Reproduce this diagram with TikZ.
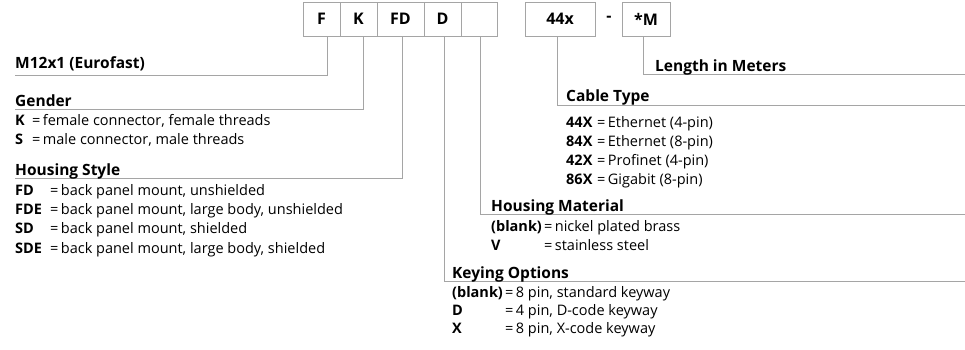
\documentclass[tikz,border=0pt]{standalone}
\usepackage{fontspec}
\setmainfont{Open Sans}
\usetikzlibrary{positioning}

\definecolor{linegray}{RGB}{165,165,165}
\tikzset{
  codebox/.style={draw=linegray, line width=1pt, outer sep=0pt, inner sep=0pt,
    minimum height=34pt, font=\fontsize{16}{19}\selectfont\bfseries},
  conn/.style={draw=linegray, line width=1pt},
  heading/.style={anchor=base west, inner sep=0pt, font=\fontsize{15.5}{18}\selectfont\bfseries},
  entry/.style={anchor=base west, inner sep=0pt, font=\fontsize{14.5}{16}\selectfont},
}
\newcommand{\optrow}[3]{\makebox[#1][l]{\textbf{#2}}=\,#3}

\begin{document}
\begin{tikzpicture}[x=1pt,y=-1pt]
	\useasboundingbox (0,0) rectangle (965,349);
	% part number boxes
	\node[codebox, minimum width=37pt] (bF) at (321.5,19) {F};
	\node[codebox, minimum width=37pt, right=0pt of bF] (bK) {K};
	\node[codebox, minimum width=47pt, right=0pt of bK] (bFD) {FD};
	\node[codebox, minimum width=37pt, right=0pt of bFD] (bD) {D};
	\node[codebox, minimum width=36pt, right=0pt of bD] (bMat) {};
	\node[codebox, minimum width=70pt] (bCab) at (560,19) {44x};
	\node[font=\fontsize{16}{19}\selectfont\bfseries] (dash) at (609,19) {-};
	\node[codebox, minimum width=48pt] (bLen) at (646,19) {*M};
	
	% ends of the underlines
	\coordinate (m12end) at (15,75.5);
	\coordinate (genend) at (15,109.5);
	\coordinate (hsend) at (15,178);
	\coordinate (lenend) at (965,74);
	\coordinate (cabend) at (965,105);
	\coordinate (matend) at (965,214);
	\coordinate (keyend) at (965,281.5);
	
	\draw[conn] ([xshift=5.5pt]bF.south) |- (m12end);
	\draw[conn] ([xshift=4.5pt]bK.south) |- (genend);
	\draw[conn] ([xshift=1.5pt]bFD.south) |- (hsend);
	\draw[conn] ([xshift=1.5pt]bD.south) |- (keyend);
	\draw[conn] ([xshift=1pt]bMat.south) |- (matend);
	\draw[conn] ([xshift=-3pt]bCab.south) |- (cabend);
	\draw[conn] ([xshift=-3pt]bLen.south) |- (lenend);
	
	% left column
	\node[heading] (m12) at (15,68) {M12x1 (Eurofast)};
	
	\node[heading] (gen) at (15,106) {Gender};
	\node[entry] (genK) at (15,125) {\optrow{17pt}{K}{female connector, female threads}};
	\node[entry] (genS) at (15,144) {\optrow{17pt}{S}{male connector, male threads}};
	
	\node[heading] (hs) at (15,175) {Housing Style};
	\node[entry] (hsFD) at (15,195) {\optrow{35pt}{FD}{back panel mount, unshielded}};
	\node[entry] (hsFDE) at (15,214) {\optrow{35pt}{FDE}{back panel mount, large body, unshielded}};
	\node[entry] (hsSD) at (15,233.5) {\optrow{35pt}{SD}{back panel mount, shielded}};
	\node[entry] (hsSDE) at (15,253) {\optrow{35pt}{SDE}{back panel mount, large body, shielded}};
	
	% right column
	\node[heading] (len) at (655,71) {Length in Meters};
	
	\node[heading] (cab) at (566,101.5) {Cable Type};
	\node[entry] (cab44) at (566,127.5) {\optrow{31pt}{44X}{Ethernet (4-pin)}};
	\node[entry] (cab84) at (566,146.5) {\optrow{31pt}{84X}{Ethernet (8-pin)}};
	\node[entry] (cab42) at (566,165.5) {\optrow{31pt}{42X}{Profinet (4-pin)}};
	\node[entry] (cab86) at (566,184.5) {\optrow{31pt}{86X}{Gigabit (8-pin)}};
	
	\node[heading] (mat) at (491,211) {Housing Material};
	\node[entry] (matB) at (491,231) {\optrow{53pt}{(blank)}{nickel plated brass}};
	\node[entry] (matV) at (491,250) {\optrow{53pt}{V}{stainless steel}};
	
	\node[heading] (key) at (452,278) {Keying Options};
	\node[entry] (keyB) at (452,297) {\optrow{53pt}{(blank)}{8 pin, standard keyway}};
	\node[entry] (keyD) at (452,315) {\optrow{53pt}{D}{4 pin, D-code keyway}};
	\node[entry] (keyX) at (452,333) {\optrow{53pt}{X}{8 pin, X-code keyway}};
\end{tikzpicture}
\end{document}
